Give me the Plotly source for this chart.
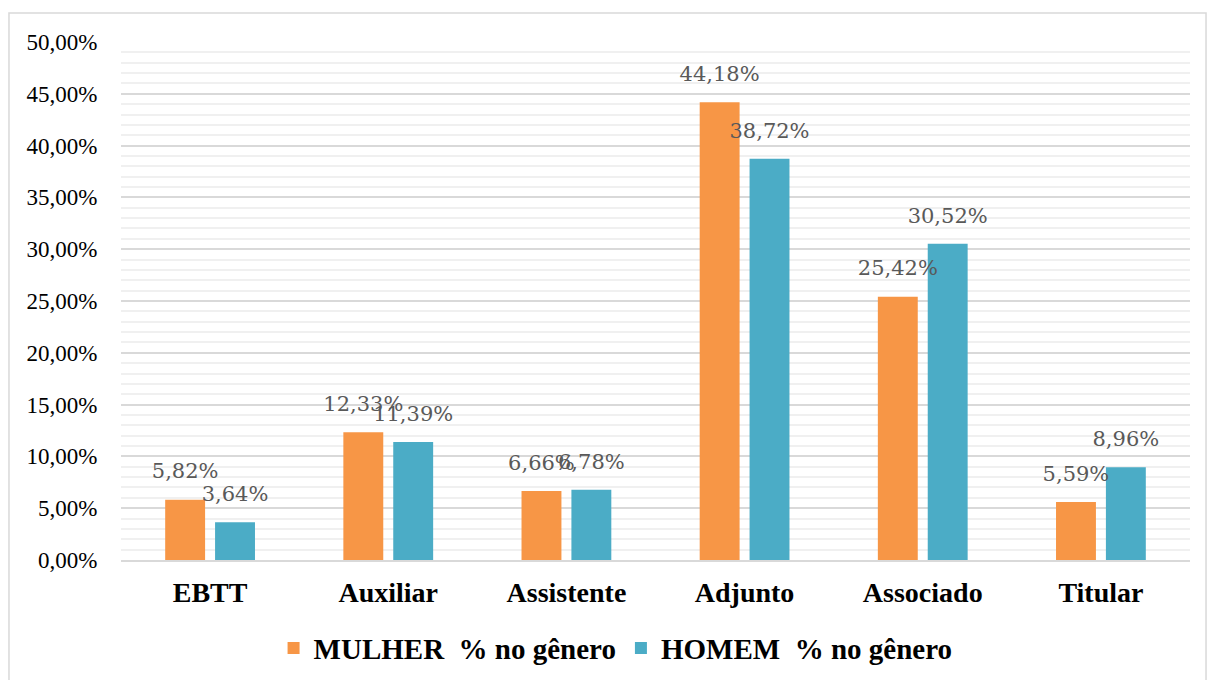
import plotly.graph_objects as go

categories = ["EBTT", "Auxiliar", "Assistente", "Adjunto", "Associado", "Titular"]
mulher = [5.82, 12.33, 6.66, 44.18, 25.42, 5.59]
homem = [3.64, 11.39, 6.78, 38.72, 30.52, 8.96]
series_names = ["MULHER\u00a0\u00a0% no gênero", "HOMEM\u00a0\u00a0% no gênero"]
y_ticks = [0, 5, 10, 15, 20, 25, 30, 35, 40, 45, 50]
y_ticktext = [f"{v:.2f}".replace(".", ",") + "%" for v in y_ticks]
colors = ["#F79646", "#4BACC6"]


def fmt(vals):
    return [f"{v:.2f}".replace(".", ",") + "%" for v in vals]


label_font = dict(family="DejaVu Serif", size=21, color="#595959")

fig = go.Figure()
for i, (vals, name) in enumerate([(mulher, series_names[0]), (homem, series_names[1])]):
    fig.add_trace(go.Bar(
        x=categories, y=vals, name=name, offsetgroup=str(i),
        marker=dict(color=colors[i], line=dict(width=0)),
    ))
for i, vals in enumerate([mulher, homem]):
    fig.add_trace(go.Scatter(
        x=categories, y=vals, offsetgroup=str(i), mode="markers+text",
        marker=dict(size=24, color="rgba(0,0,0,0)"),
        text=fmt(vals), textposition="top center", textfont=label_font,
        showlegend=False, hoverinfo="skip", cliponaxis=False,
    ))

fig.update_layout(
    width=1207, height=680,
    margin=dict(l=121, r=17, t=42, b=120, autoexpand=False),
    paper_bgcolor="white", plot_bgcolor="white",
    barmode="group", bargap=0.44, bargroupgap=0.2,
    scattermode="group", scattergap=0.44,
    font=dict(family="Liberation Serif", color="#000000"),
    showlegend=True,
    legend=dict(
        orientation="h", xref="container", yref="container",
        x=0.51, xanchor="center", y=0.047, yanchor="middle",
        font=dict(family="Liberation Serif", size=29, color="#000000", weight="bold"),
        itemsizing="constant", traceorder="normal",
    ),
    shapes=[dict(
        type="rect", xref="paper", yref="paper",
        x0=-0.1048, x1=1.015, y0=-0.26, y1=1.056,
        line=dict(color="#d9d9d9", width=1.5), fillcolor="rgba(0,0,0,0)", layer="below",
    )],
)

fig.update_xaxes(
    type="category", showgrid=False, showline=True, linecolor="#d9d9d9", linewidth=1.5,
    ticks="outside", tickcolor="rgba(0,0,0,0)", ticklen=7, automargin=False,
    tickfont=dict(family="Liberation Serif", size=28, color="#000000", weight="bold"),
)
fig.update_yaxes(
    range=[0, 50], tickvals=y_ticks, ticktext=y_ticktext,
    showgrid=True, gridcolor="#d9d9d9", gridwidth=1.5,
    zeroline=False, showline=False, automargin=False,
    ticks="outside", tickcolor="rgba(0,0,0,0)", ticklen=18,
    tickfont=dict(family="Liberation Serif", size=23, color="#000000"),
    minor=dict(dtick=1, tick0=0, showgrid=True, gridcolor="#f0f0f0", gridwidth=1.5),
)

fig.write_html("out.html", config={"displayModeBar": False},
               post_script="document.body.style.margin='0';")
